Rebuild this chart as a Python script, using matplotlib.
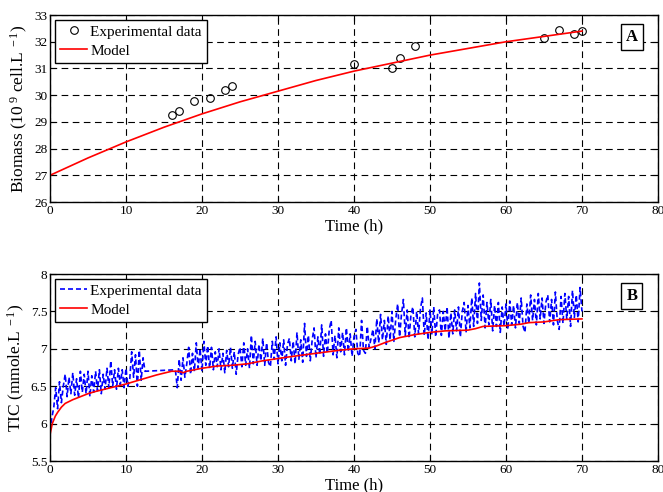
import matplotlib
matplotlib.use("Agg")
import matplotlib.pyplot as plt
import numpy as np

plt.rcParams['font.family'] = ['Liberation Serif', 'DejaVu Serif']
plt.rcParams['mathtext.fontset'] = 'custom'
plt.rcParams['mathtext.rm'] = 'Liberation Serif'
plt.rcParams['mathtext.it'] = 'Liberation Serif:italic'

# --- panel A: biomass ---
bio_t = [16, 17, 19, 21, 23, 24, 40, 45, 46, 48, 65, 67, 69, 70]
bio_y = [29.25, 29.4, 29.8, 29.9, 30.2, 30.35, 31.15, 31.0, 31.4, 31.85,
         32.15, 32.45, 32.3, 32.4]
bio_mod_t = [0, 5, 10, 15, 20, 25, 30, 35, 40, 45, 50, 55, 60, 65, 70]
bio_mod_y = [27.0, 27.65, 28.25, 28.8, 29.3, 29.75, 30.15, 30.55, 30.9,
             31.2, 31.5, 31.75, 32.0, 32.2, 32.4]

# --- panel B: TIC ---
# experimental, sampled every 0.25 h, first run 0-12.5 h
tic1 = [5.90, 6.08, 6.22, 6.48, 6.20, 6.56, 6.28, 6.50, 6.66, 6.36,
        6.62, 6.40, 6.68, 6.38, 6.60, 6.34, 6.70, 6.42, 6.66, 6.40,
        6.70, 6.36, 6.64, 6.42, 6.70, 6.44, 6.72, 6.40, 6.66, 6.46,
        6.74, 6.48, 6.84, 6.50, 6.72, 6.46, 6.74, 6.52, 6.72, 6.48,
        6.74, 6.50, 6.60, 6.96, 6.62, 6.92, 6.50, 6.98, 6.58, 6.88,
        6.70]
# second run 16.5-70 h
tic2 = [6.72, 6.48, 6.86, 6.58, 6.88, 6.62, 6.80, 7.02, 6.66, 6.94,
        6.70, 7.08, 6.74, 7.00, 6.70, 7.10, 6.78, 7.04, 6.74, 7.02,
        6.72, 6.96, 6.76, 7.00, 6.72, 6.94, 6.68, 6.98, 6.76, 7.02,
        6.74, 6.96, 6.66, 6.92, 7.02, 6.76, 7.08, 6.78, 7.00, 6.74,
        7.18, 6.80, 7.10, 6.78, 7.06, 6.84, 7.14, 6.78, 7.08, 6.82,
        6.76, 7.10, 6.86, 7.16, 6.80, 7.08, 6.84, 7.12, 6.78, 7.06,
        7.14, 6.84, 7.10, 6.80, 7.22, 6.86, 7.12, 6.82, 7.34, 6.90,
        7.18, 6.84, 7.12, 7.28, 6.88, 7.16, 6.92, 7.32, 6.90, 7.20,
        6.94, 7.26, 7.38, 6.92, 7.18, 6.88, 7.28, 6.96, 7.22, 6.92,
        7.28, 6.96, 7.20, 6.90, 7.16, 7.26, 6.94, 6.90, 7.38, 6.98,
        6.94, 7.30, 7.02, 7.14, 7.26, 7.00, 7.40, 7.08, 7.46, 7.12,
        7.38, 7.06, 7.44, 7.12, 7.50, 7.10, 7.40, 7.60, 7.16, 7.46,
        7.66, 7.18, 7.52, 7.14, 7.46, 7.56, 7.16, 7.50, 7.20, 7.54,
        7.68, 7.18, 7.48, 7.12, 7.52, 7.20, 7.56, 7.16, 7.46, 7.52,
        7.18, 7.50, 7.24, 7.56, 7.14, 7.48, 7.20, 7.52, 7.24, 7.56,
        7.16, 7.50, 7.62, 7.22, 7.58, 7.28, 7.68, 7.30, 7.74, 7.34,
        7.88, 7.38, 7.72, 7.28, 7.62, 7.32, 7.66, 7.24, 7.58, 7.30,
        7.62, 7.22, 7.56, 7.30, 7.60, 7.26, 7.64, 7.32, 7.58, 7.28,
        7.62, 7.34, 7.68, 7.30, 7.22, 7.60, 7.34, 7.72, 7.38, 7.66,
        7.32, 7.74, 7.40, 7.68, 7.34, 7.62, 7.72, 7.36, 7.66, 7.32,
        7.76, 7.38, 7.26, 7.70, 7.34, 7.74, 7.40, 7.70, 7.30, 7.78,
        7.42, 7.72, 7.36, 7.82, 7.50]
dt = 0.25
tic_t = np.concatenate([np.arange(len(tic1)) * dt,
                        16.5 + np.arange(len(tic2)) * dt])
tic_y = np.array(tic1 + tic2)

tic_mod_t = [0, 0.3, 0.7, 1, 1.5, 2, 3, 4, 5, 6, 8, 10, 12, 14, 16, 17,
             17.5, 18, 20, 22, 24, 26, 28, 30, 32, 35, 38, 40, 42, 43, 44,
             46, 48, 50, 52, 55, 56, 57, 60, 62, 63, 65, 67, 70]
tic_mod_y = [5.85, 6.0, 6.1, 6.15, 6.22, 6.27, 6.32, 6.36, 6.40, 6.43,
             6.48, 6.53, 6.59, 6.65, 6.70, 6.70, 6.68, 6.70, 6.74, 6.77,
             6.78, 6.80, 6.84, 6.87, 6.90, 6.94, 6.98, 7.00, 7.01, 7.04,
             7.08, 7.15, 7.19, 7.22, 7.24, 7.25, 7.27, 7.30, 7.31, 7.33,
             7.35, 7.36, 7.39, 7.40]

fig = plt.figure(figsize=(6.63, 4.92), dpi=100)
ax1 = fig.add_axes([0.0754, 0.5894, 0.917, 0.380])
ax2 = fig.add_axes([0.0754, 0.063, 0.917, 0.380])

ax1.plot(bio_t, bio_y, 'o', mfc='none', mec='k', ms=5.5, mew=0.8,
         label='Experimental data')
ax1.plot(bio_mod_t, bio_mod_y, 'r-', lw=1.2, label='Model')
ax1.set_ylim(26, 33)
ax1.set_yticks(range(26, 34))
ax1.set_ylabel('Biomass (10$^{\\ 9}$ cell.L$^{\\ -1}$)', fontsize=12.5,
               labelpad=3)

ax2.plot(tic_t, tic_y, color='b', lw=1.2, ls=(0, (3, 1.8)),
         label='Experimental data')
ax2.plot(tic_mod_t, tic_mod_y, 'r-', lw=1.2, label='Model')
ax2.set_ylim(5.5, 8)
ax2.set_yticks([5.5, 6, 6.5, 7, 7.5, 8])
ax2.set_yticklabels(['5.5', '6', '6.5', '7', '7.5', '8'])
ax2.set_ylabel('TIC (mmole.L$^{\\ -1}$)', fontsize=12.5, labelpad=3)

for ax, tag in [(ax1, 'A'), (ax2, 'B')]:
    ax.set_xlim(0, 80)
    ax.set_xticks(range(0, 81, 10))
    ax.set_xlabel('Time (h)', fontsize=12, labelpad=1)
    ax.grid(True, color='k', ls=(0, (6, 4)), lw=0.8)
    ax.tick_params(direction='in', top=True, right=True, labelsize=9.5,
                   length=4, pad=2)
    for s in ax.spines.values():
        s.set_linewidth(1.0)
    leg = ax.legend(loc='upper left', fontsize=11, fancybox=False,
                    framealpha=1, edgecolor='k', borderpad=0.35,
                    labelspacing=0.35, handlelength=1.8, handletextpad=0.2,
                    borderaxespad=0.3)
    leg.get_frame().set_linewidth(1.0)
    ax.text(0.957, 0.882, tag, transform=ax.transAxes, ha='center',
            va='center', fontsize=12, fontweight='bold',
            bbox=dict(boxstyle='square,pad=0.3', fc='w', ec='k', lw=1.0))

fig.savefig('out.png', dpi=100)
